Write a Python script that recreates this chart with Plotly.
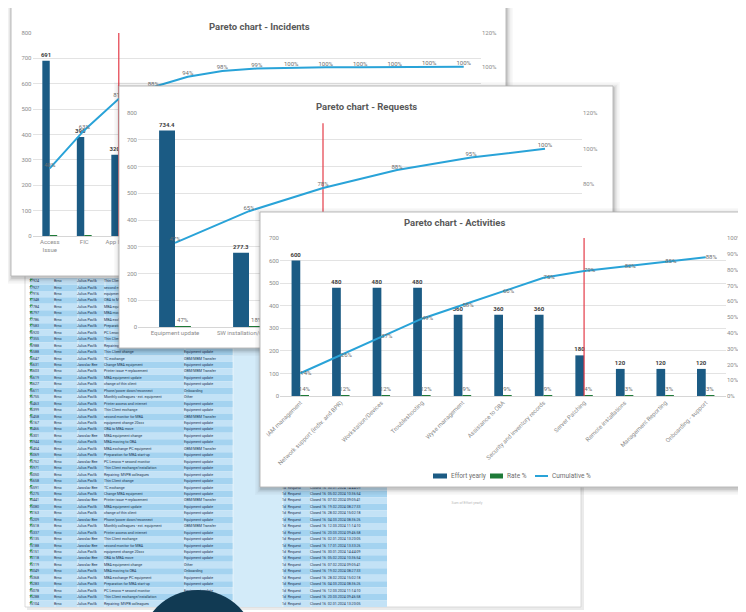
import plotly.graph_objects as go

W, H = 746, 612
OFF = 8  # page body margin of the html page; all reference pixel positions are shifted by it

# ---------------- chart data ----------------
inc_categories = ["Access<br>Issue", "FIC", "App Issue", "Hardware", "Network", "Printer",
                  "E-mail", "VPN", "Phone", "License", "Backup", "Security", "Other"]
inc_effort = [691, 390, 320, 121, 104, 60, 25, 9, 3, 2, 1, 1, 1]
inc_cutoff = "App Issue"
inc_cutoff_top = 800

req_categories = ["Equipment update", "SW installation/upgrade", "OBM/MBM Transfer",
                  "Onboarding", "Access request", "Other"]
req_effort = [734.4, 277.3, 203.0, 156.0, 109.0, 78.0]
req_cutoff = "OBM/MBM Transfer"
req_cutoff_top = 762

act_categories = ["IAM management", "Network support (indiv. and BPR)", "Workstation/Devices",
                  "Troubleshooting", "Wyse management", "Assistance to OBA",
                  "Security and inventory records", "Server Patching", "Remote installations",
                  "Management Reporting", "Onboarding - support"]
act_effort = [600, 480, 480, 480, 360, 360, 360, 180, 120, 120, 120]
act_other_effort = 510          # effort of activities beyond the visible ones
act_cutoff = "Server Patching"
act_cutoff_top = 700

legend_names = ["Effort yearly", "Rate %", "Cumulative %"]

# ---------------- spreadsheet (background) data ----------------
sheet_ids = [17924, 17927, 17916, 17348, 17784, 16797, 17786, 17583, 16920, 17355,
             16988, 16588, 16647, 16631, 16603, 16619, 16627, 16611, 16755, 16463,
             16399, 16458, 16167, 16466, 16301, 15944, 16454, 16069, 15752, 15971,
             16050, 16658, 16591, 15275, 15441, 15080, 15163, 15209, 15518, 15337,
             15135, 15188, 15151, 15118, 15119, 15049, 15368, 15283, 15078, 15288, 15104]
sheet_name_codes = "JJJJJJJJJJJJJBJJJJJJJJJJBJJJBJJJBJBJJBJJBBJBBJJJJJJ"
sheet_people = {"J": "Julius Pavlík", "B": "Jaroslav Bee"}
sheet_descriptions = ["Thin Client exchange", "second monitor for MBA", "equipment change 20xxx",
                      "OBA to MBA move", "MBA equipment change", "MBA moving to OBA",
                      "MBA exchange PC equipment", "Preparation for MBA start-up",
                      "PC Lenovo + second monitor", "Thin Client exchange/installation",
                      "Repairing: MVPB colleagues", "Thin Client change", "TC exchange",
                      "Change MBA equipment", "Printer issue + replacement",
                      "MBA equipment update", "change of thin client",
                      "Phone/power down/reconnect", "Monthly colleagues - ext. equipment",
                      "Printer access and internet"]
sheet_cat_codes = "EEETEEEEEEEETETEENOEETEEEETEEEEEEETEEETEEEEEONEEEEE"
sheet_cat_names = {"E": "Equipment update", "T": "OBM/MBM Transfer", "N": "Onboarding", "O": "Other"}
sheet_dates = ["02.01.2024 13:20:05", "17.01.2024 13:33:26", "30.01.2024 14:44:09",
               "05.02.2024 10:36:54", "07.02.2024 09:05:41", "19.02.2024 08:27:33",
               "28.02.2024 15:02:18", "04.03.2024 08:36:26", "12.03.2024 11:14:10",
               "20.03.2024 09:46:58"]

# ---------------- styles ----------------
BAR = "#1b5b84"
RATE = "#1e7a38"
LINE = "#29a3d8"
RED = "rgba(228,58,70,0.85)"
GRID = "#e3e3e3"
TICK = "#8c8c8c"
LABEL = "#404040"
FONT = "Roboto"

fig = go.Figure()

# ---------------- spreadsheet ----------------
row_top, row_h = 278.0, 6.45
n_rows = len(sheet_ids)
shapes = []
shapes.append(dict(type="rect", xref="x", yref="y", x0=27, y0=262, x1=584, y1=610,
                   fillcolor="rgba(0,0,0,0.08)", line=dict(width=0), layer="below"))
shapes.append(dict(type="rect", xref="x", yref="y", x0=25, y0=258, x1=581, y1=607,
                   fillcolor="white", line=dict(color="#d2d2d2", width=0.8), layer="below"))
for i in range(n_rows):
    y0 = row_top + i * row_h
    shapes.append(dict(type="rect", xref="x", yref="y", x0=30, x1=387, y0=y0, y1=y0 + row_h,
                       fillcolor="#c3e2f6" if i % 2 == 0 else "#a4d3f0",
                       line=dict(width=0), layer="below"))
shapes.append(dict(type="rect", xref="x", yref="y", x0=233, x1=283, y0=row_top,
                   y1=row_top + n_rows * row_h, fillcolor="#d3ebf9", line=dict(width=0), layer="below"))
for cx in [55, 78, 105, 185, 233, 283, 311]:
    shapes.append(dict(type="line", xref="x", yref="y", x0=cx, x1=cx, y0=row_top,
                       y1=row_top + n_rows * row_h, line=dict(color="white", width=0.5), layer="below"))

row_y = [row_top + (i + 0.5) * row_h for i in range(n_rows)]
sheet_cols = [
    (29, [str(v) for v in sheet_ids]),
    (54, ["Brno"] * n_rows),
    (77, [sheet_people[sheet_name_codes[i % len(sheet_name_codes)]] for i in range(n_rows)]),
    (104, [sheet_descriptions[i % len(sheet_descriptions)] for i in range(n_rows)]),
    (184, [sheet_cat_names[sheet_cat_codes[i % len(sheet_cat_codes)]] for i in range(n_rows)]),
    (282, ["1d  Request"] * n_rows),
    (310, ["Closed 16  " + sheet_dates[i % len(sheet_dates)] for i in range(n_rows)]),
]
for cx, texts in sheet_cols:
    fig.add_trace(go.Scatter(x=[cx] * n_rows, y=row_y, mode="text", text=texts,
                             textposition="middle right",
                             textfont=dict(size=3.6, color="#1d3350", family=FONT),
                             hoverinfo="skip", showlegend=False, xaxis="x", yaxis="y"))
fig.add_trace(go.Scatter(x=[31] * n_rows, y=[row_top + i * row_h + 1.6 for i in range(n_rows)],
                         mode="markers", marker=dict(symbol="triangle-nw", size=3, color="#2f9a46"),
                         hoverinfo="skip", showlegend=False, xaxis="x", yaxis="y"))
fig.add_trace(go.Scatter(x=[467], y=[503], mode="text", text=["Sum of Effort yearly"],
                         textfont=dict(size=3.5, color="#b5b5b5", family=FONT),
                         hoverinfo="skip", showlegend=False, xaxis="x", yaxis="y"))


# ---------------- helpers ----------------
def add_card(x0, y0, x1, y1, xa, ya):
    for k, a in [(6, 0.025), (4.5, 0.03), (3, 0.045), (1.8, 0.06), (0.8, 0.08)]:
        fig.add_trace(go.Scatter(
            x=[x0 - k + 1, x1 + k + 1, x1 + k + 1, x0 - k + 1, x0 - k + 1],
            y=[y0 - k + 2, y0 - k + 2, y1 + k + 2, y1 + k + 2, y0 - k + 2],
            mode="lines", fill="toself", fillcolor=f"rgba(0,0,0,{a})", line=dict(width=0),
            hoverinfo="skip", showlegend=False, xaxis=xa, yaxis=ya))
    fig.add_trace(go.Scatter(
        x=[x0, x1, x1, x0, x0], y=[y0, y0, y1, y1, y0],
        mode="lines", fill="toself", fillcolor="white", line=dict(color="#b4b4b4", width=0.9),
        hoverinfo="skip", showlegend=False, xaxis=xa, yaxis=ya))


def add_chart(xa, ya, ya2, cats, effort, total, cutoff, cut_top, eff_fmt, rate_labels, cum_pos):
    rate = [v / total for v in effort]
    cumv, s = [], 0.0
    for v in effort:
        s += v
        cumv.append(s / total)
    fig.add_trace(go.Bar(
        x=cats, y=effort, name=legend_names[0], marker_color=BAR,
        text=[eff_fmt.format(v) for v in effort], textposition="outside",
        textfont=dict(size=6, color=LABEL, family=FONT, weight="bold"),
        cliponaxis=False, constraintext="none", hoverinfo="skip",
        showlegend=False, xaxis=xa, yaxis=ya))
    fig.add_trace(go.Bar(
        x=cats, y=rate, name=legend_names[1], marker_color=RATE,
        text=[f"{r:.0%}" for r in rate] if rate_labels else None,
        textposition="outside" if rate_labels else "none",
        textfont=dict(size=6, color="#6e6e6e", family=FONT),
        cliponaxis=False, constraintext="none", hoverinfo="skip",
        showlegend=False, xaxis=xa, yaxis=ya))
    fig.add_trace(go.Scatter(
        x=[cutoff, cutoff], y=[0, cut_top], mode="lines", line=dict(color=RED, width=1.4),
        hoverinfo="skip", showlegend=False, xaxis=xa, yaxis=ya))
    fig.add_trace(go.Scatter(
        x=cats, y=cumv, mode="lines+text", name=legend_names[2],
        text=[f"{c:.0%}" for c in cumv], textposition=cum_pos,
        textfont=dict(size=6, color="#6e6e6e", family=FONT),
        line=dict(color=LINE, width=2), cliponaxis=False, hoverinfo="skip",
        showlegend=False, xaxis=xa, yaxis=ya2))


# ---------------- cards & charts (back to front) ----------------
add_card(11, 6, 506, 276, "x2", "y2")
add_chart("x3", "y3", "y4", inc_categories, inc_effort, sum(inc_effort), inc_cutoff,
          inc_cutoff_top, "{:.0f}", False, "top center")

add_card(119, 86, 613, 348, "x4", "y5")
add_chart("x5", "y6", "y7", req_categories, req_effort, sum(req_effort), req_cutoff,
          req_cutoff_top, "{:.1f}", True, "top center")

add_card(260, 212, 770, 487, "x6", "y8")
add_chart("x7", "y9", "y10", act_categories, act_effort, sum(act_effort) + act_other_effort,
          act_cutoff, act_cutoff_top, "{:.0f}", True, "middle right")


# ---------------- layout (positions given in reference pixels) ----------------
def px(x):
    return (x - OFF) / W


def py(y):
    return (H - (y - OFF)) / H


def dx(a, b):
    return [px(a), px(b)]


def dy(top, bottom):
    return [py(bottom), py(top)]


pix_x = dict(domain=[0, 1], range=[OFF, W + OFF], visible=False, fixedrange=True, automargin=False)
pix_y = dict(domain=[0, 1], range=[H + OFF, OFF], visible=False, fixedrange=True, automargin=False)
tickf = dict(size=6, color=TICK, family=FONT)


def cat_x(domain, n, anchor, angle=0):
    return dict(domain=domain, anchor=anchor, type="category", range=[-0.5, n - 0.5],
                showgrid=False, showline=True, linecolor="#d6d6d6", linewidth=0.8,
                ticks="", tickfont=tickf, tickangle=angle, fixedrange=True, automargin=False)


def val_y(domain, top, anchor):
    return dict(domain=domain, anchor=anchor, range=[0, top], dtick=100, showgrid=True,
                gridcolor=GRID, gridwidth=0.8, zeroline=False, showline=False, ticks="",
                tickfont=tickf, fixedrange=True, automargin=False)


def pct_y(over, anchor, top, step):
    return dict(overlaying=over, anchor=anchor, side="right", range=[0, top], dtick=step,
                tickformat=".0%", showgrid=False, zeroline=False, showline=False, ticks="",
                tickfont=tickf, fixedrange=True, automargin=False)


annotations = [
    dict(x=px(259), y=py(19), xref="paper", yref="paper", showarrow=False,
         text="<b>Pareto chart - Incidents</b>", font=dict(size=9.5, color="#595959", family=FONT)),
    dict(x=px(366), y=py(99), xref="paper", yref="paper", showarrow=False,
         text="<b>Pareto chart - Requests</b>", font=dict(size=9.5, color="#595959", family=FONT)),
    dict(x=px(507), y=py(223), xref="paper", yref="paper", showarrow=False,
         text="<b>Pareto chart - Activities</b>", font=dict(size=9.5, color="#595959", family=FONT)),
]

# legend of the Activities chart (compact Excel style)
leg_y = 476
leg_items = [(433, 447, BAR, "rect"), (490, 503, RATE, "rect"), (535, 548, LINE, "line")]
for (a, b, col, kind), name in zip(leg_items, legend_names):
    if kind == "rect":
        shapes.append(dict(type="rect", xref="paper", yref="paper", x0=px(a), x1=px(b),
                           y0=py(leg_y + 2.5), y1=py(leg_y - 2.5), fillcolor=col,
                           line=dict(width=0), layer="above"))
    else:
        shapes.append(dict(type="line", xref="paper", yref="paper", x0=px(a), x1=px(b),
                           y0=py(leg_y), y1=py(leg_y), line=dict(color=col, width=2),
                           layer="above"))
    annotations.append(dict(x=px(b + 1.5), y=py(leg_y), xref="paper", yref="paper",
                            xanchor="left", yanchor="middle", showarrow=False, text=name,
                            font=dict(size=6.5, color="#6e6e6e", family=FONT)))

shapes.append(dict(type="circle", xref="paper", yref="paper",
                   x0=px(198 - 58), x1=px(198 + 58),
                   y0=py(648 + 58), y1=py(590),
                   fillcolor="#113a53", line=dict(width=0), layer="above"))

fig.update_layout(
    template="none",
    width=W, height=H, autosize=False,
    margin=dict(l=0, r=0, t=0, b=0, pad=0, autoexpand=False),
    paper_bgcolor="white", plot_bgcolor="rgba(0,0,0,0)",
    font=dict(family=FONT, size=6, color=TICK),
    barmode="group", bargap=0.57, bargroupgap=0,
    xaxis={**pix_x, "anchor": "y"}, yaxis={**pix_y, "anchor": "x"},
    xaxis2={**pix_x, "anchor": "y2"}, yaxis2={**pix_y, "anchor": "x2"},
    xaxis3=cat_x(dx(32.5, 481), len(inc_categories), "y3"),
    yaxis3=val_y(dy(33, 236), 800, "x3"),
    yaxis4=pct_y("y3", "x3", 1.2, 0.2),
    xaxis4={**pix_x, "anchor": "y5"}, yaxis5={**pix_y, "anchor": "x4"},
    xaxis5=cat_x(dx(138, 582), len(req_categories), "y6"),
    yaxis6=val_y(dy(113, 327), 800, "x5"),
    yaxis7=pct_y("y6", "x5", 1.2, 0.2),
    xaxis6={**pix_x, "anchor": "y8"}, yaxis8={**pix_y, "anchor": "x6"},
    xaxis7=cat_x(dx(280, 726), len(act_categories), "y9", angle=-45),
    yaxis9=val_y(dy(238, 396), 700, "x7"),
    yaxis10=pct_y("y9", "x7", 1.0, 0.1),
    showlegend=False,
    shapes=shapes,
    annotations=annotations,
    hovermode=False,
)

fig.write_html("out.html")
